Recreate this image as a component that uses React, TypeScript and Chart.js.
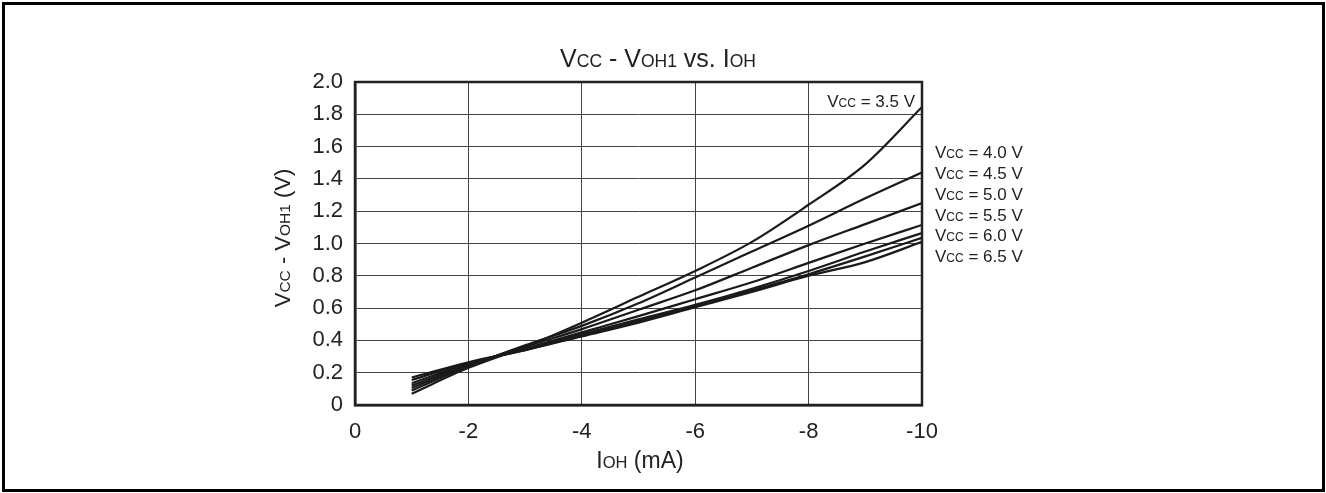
import React, { useEffect, useRef } from "react";
import { Chart, registerables } from "chart.js";

Chart.register(...registerables);

const FONT = "'Liberation Sans', Arial, Helvetica, sans-serif";

const currents = [-1, -2, -3, -4, -5, -6, -7, -8, -9, -10];
const vcc35 = [0.07, 0.23, 0.36, 0.51, 0.67, 0.83, 1.01, 1.24, 1.49, 1.845];
const vcc40 = [0.09, 0.24, 0.37, 0.49, 0.63, 0.79, 0.95, 1.11, 1.28, 1.44];
const vcc45 = [0.105, 0.245, 0.36, 0.47, 0.59, 0.71, 0.85, 0.99, 1.12, 1.25];
const vcc50 = [0.12, 0.25, 0.35, 0.45, 0.55, 0.655, 0.76, 0.88, 1.0, 1.115];
const vcc55 = [0.135, 0.255, 0.345, 0.44, 0.53, 0.62, 0.72, 0.83, 0.95, 1.065];
const vcc60 = [0.155, 0.26, 0.34, 0.43, 0.52, 0.61, 0.71, 0.81, 0.92, 1.035];
const vcc65 = [0.17, 0.265, 0.34, 0.425, 0.51, 0.605, 0.7, 0.8, 0.885, 1.01];

const seriesNames = ["3.5", "4.0", "4.5", "5.0", "5.5", "6.0", "6.5"];
const seriesValues = [vcc35, vcc40, vcc45, vcc50, vcc55, vcc60, vcc65];

const xTicks = [0, -2, -4, -6, -8, -10];

type Part = [string, number];

function drawRich(
  ctx: CanvasRenderingContext2D,
  parts: Part[],
  x: number,
  y: number,
  align: "left" | "center" | "right"
) {
  let total = 0;
  const widths: number[] = [];
  for (const [t, s] of parts) {
    ctx.font = `${s}px ${FONT}`;
    const w = ctx.measureText(t).width;
    widths.push(w);
    total += w;
  }
  let cx = x;
  if (align === "center") cx = x - total / 2;
  else if (align === "right") cx = x - total;
  ctx.textAlign = "left";
  ctx.textBaseline = "alphabetic";
  parts.forEach(([t, s], i) => {
    ctx.font = `${s}px ${FONT}`;
    ctx.fillText(t, cx, y);
    cx += widths[i];
  });
}

const textPlugin = {
  id: "richText",
  afterDraw(chart: any) {
    const ctx: CanvasRenderingContext2D = chart.ctx;
    const area = chart.chartArea;
    ctx.save();
    // frame
    ctx.strokeStyle = "#222";
    ctx.lineWidth = 2.5;
    ctx.strokeRect(area.left, area.top, area.right - area.left, area.bottom - area.top);
    ctx.fillStyle = "#222";
    // title
    drawRich(
      ctx,
      [["V", 25], ["CC", 17.5], [" - V", 25], ["OH1", 17.5], [" vs. I", 25], ["OH", 17.5]],
      658,
      67,
      "center"
    );
    // x axis label
    drawRich(ctx, [["I", 23], ["OH", 16.5], [" (mA)", 23]], 640, 468, "center");
    // y axis label
    ctx.save();
    ctx.translate(290, 238);
    ctx.rotate(-Math.PI / 2);
    drawRich(
      ctx,
      [["V", 22], ["CC", 15.5], [" - V", 22], ["OH1", 15.5], [" (V)", 22]],
      0,
      0,
      "center"
    );
    ctx.restore();
    // series labels
    const labelYs = [107, 158, 179, 200, 220.5, 241, 262];
    seriesNames.forEach((n, i) => {
      const parts: Part[] = [["V", 17], ["CC", 12], [` = ${n} V`, 17]];
      if (i === 0) drawRich(ctx, parts, area.right - 7, labelYs[i], "right");
      else drawRich(ctx, parts, area.right + 13, labelYs[i], "left");
    });
    ctx.restore();
  },
};

export default function App() {
  const ref = useRef<HTMLCanvasElement>(null);
  useEffect(() => {
    if (!ref.current) return;
    const chart = new Chart(ref.current, {
      type: "line",
      data: {
        datasets: seriesValues.map((vals, i) => ({
          label: `Vcc = ${seriesNames[i]} V`,
          data: currents.map((c, j) => ({ x: c, y: vals[j] })),
          borderColor: "#1a1a1a",
          borderWidth: 2.2,
          pointRadius: 0,
          fill: false,
          cubicInterpolationMode: "monotone" as const,
        })),
      },
      options: {
        animation: false,
        responsive: true,
        maintainAspectRatio: false,
        layout: { padding: { top: 82, right: 404, left: 0, bottom: 0 } },
        plugins: {
          legend: { display: false },
          title: { display: false },
          tooltip: { enabled: false },
        },
        scales: {
          x: {
            type: "linear",
            min: -10,
            max: 0,
            reverse: true,
            afterBuildTicks: (scale: any) => {
              scale.ticks = xTicks.map((v) => ({ value: v }));
            },
            afterFit: (scale: any) => {
              scale.height = 88;
            },
            ticks: {
              font: { family: FONT, size: 22 },
              color: "#222",
              padding: 14,
              maxRotation: 0,
              callback: (v: any) => String(v),
            },
            grid: { color: "#444", lineWidth: 1, drawTicks: false },
            border: { display: true, color: "#222", width: 2.5 },
          },
          y: {
            type: "linear",
            min: 0,
            max: 2,
            afterFit: (scale: any) => {
              scale.width = 355;
            },
            ticks: {
              stepSize: 0.2,
              font: { family: FONT, size: 22 },
              color: "#222",
              padding: 12,
              callback: (v: any) => (Math.abs(Number(v)) < 1e-9 ? "0" : Number(v).toFixed(1)),
            },
            grid: { color: "#444", lineWidth: 1, drawTicks: false },
            border: { display: true, color: "#222", width: 2.5 },
          },
        },
      },
      plugins: [textPlugin],
    });
    return () => chart.destroy();
  }, []);

  return (
    <>
      <div
        style={{
          position: "fixed",
          left: 2,
          top: 2,
          width: 1323,
          height: 490,
          border: "3px solid #000",
          boxSizing: "border-box",
          background: "#fff",
        }}
      />
      <div style={{ position: "fixed", left: 0, top: 0, width: 1326, height: 493 }}>
        <canvas ref={ref} />
      </div>
    </>
  );
}
